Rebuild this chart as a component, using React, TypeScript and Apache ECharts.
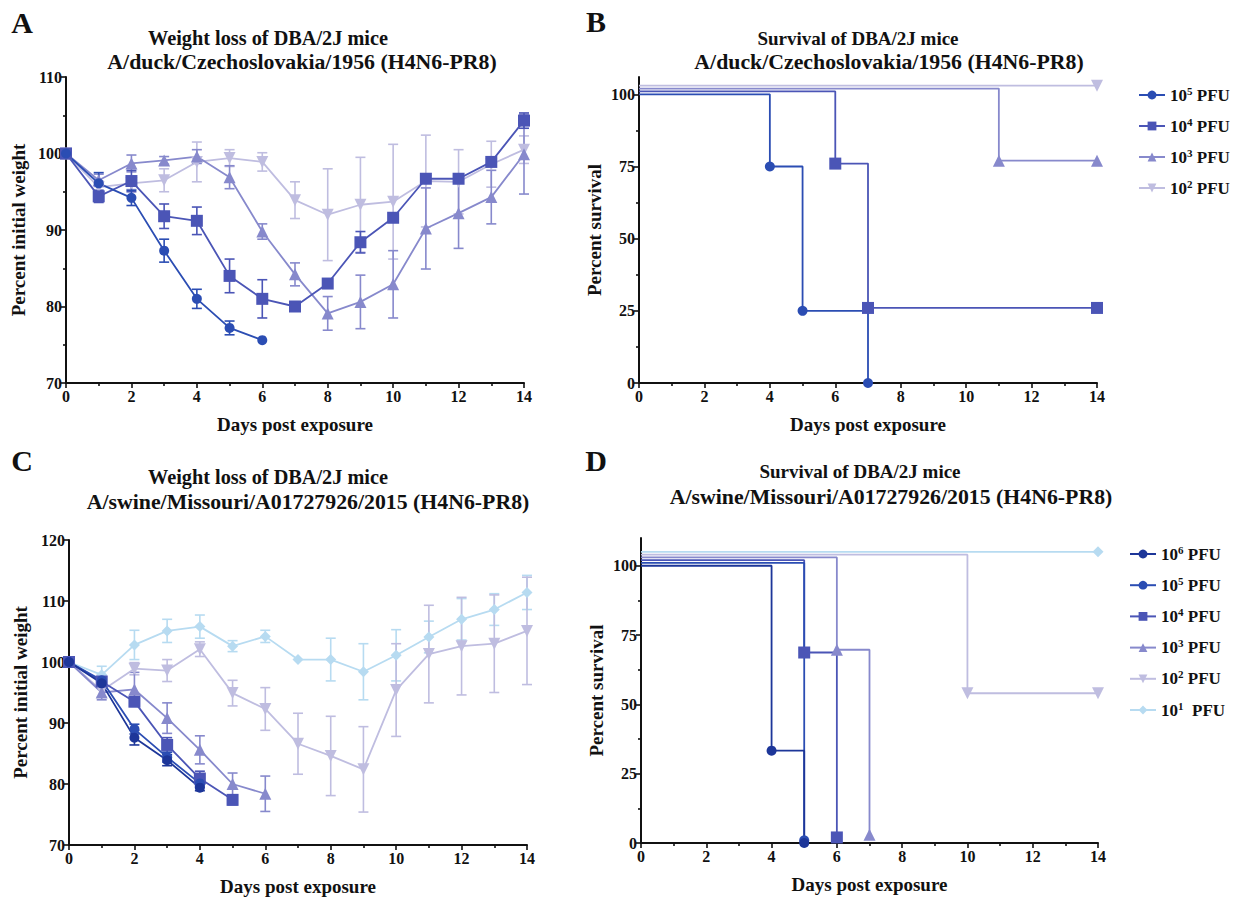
import React, { useEffect, useRef } from 'react';
import * as echarts from 'echarts';

const FONT = 'Liberation Serif, Times New Roman, serif';
const INK = '#111111';

// ---------- Data ----------
const days = [0, 1, 2, 3, 4, 5, 6, 7, 8, 9, 10, 11, 12, 13, 14];

// Panel A: weight, A/duck/Czechoslovakia/1956
const aMean5 = [100, 96.1, 94.2, 87.3, 81.0, 77.2, 75.6];
const aErr5 = [0, 1.4, 1.0, 1.5, 1.25, 0.9, 0];
const aMean4 = [100, 94.4, 96.4, 91.8, 91.2, 84.0, 81.0, 80.0, 83.0, 88.4, 91.6, 96.7, 96.7, 98.9, 104.3];
const aErr4 = [0, 0.8, 1.4, 1.6, 1.8, 2.2, 2.5, 0, 0, 1.4, 0, 0, 0, 0, 1.0];
const aMean3 = [100, 96.5, 98.7, 99.1, 99.6, 96.9, 89.8, 84.2, 79.1, 80.6, 82.9, 90.2, 92.2, 94.3, 99.9];
const aErr3 = [0, 0.8, 1.1, 0.5, 0.9, 1.5, 1.0, 1.5, 2.2, 3.5, 4.4, 5.3, 4.6, 3.5, 5.2];
const aMean2 = [100, 95.6, 96.1, 96.5, 98.9, 99.4, 98.9, 93.9, 92.0, 93.3, 93.7, 96.4, 96.3, 98.6, 100.5];
const aErr2 = [0, 0.8, 0.8, 1.5, 2.6, 1.1, 1.2, 2.4, 6.0, 6.2, 7.5, 6.0, 4.2, 3.0, 1.8];

// Panel C: weight, A/swine/Missouri/A01727926/2015
const cMean6 = [100, 96.5, 87.6, 83.9, 79.4];
const cErr6 = [0, 0.8, 1.2, 0.9, 0.5];
const cMean5 = [100, 97.0, 89.0, 84.4, 80.1];
const cErr5 = [0, 0.6, 0.8, 0.8, 0.6];
const cMean4 = [100, 96.8, 93.5, 86.4, 80.9, 77.4];
const cErr4 = [0, 0.8, 0.6, 1.2, 1.2, 0.8];
const cMean3 = [100, 95.0, 95.5, 90.8, 85.6, 80.0, 78.4];
const cErr3 = [0, 1.2, 2.8, 2.5, 2.3, 1.8, 2.9];
const cMean2 = [100, 95.3, 98.9, 98.6, 102.1, 94.9, 92.3, 86.6, 84.6, 82.4, 95.4, 101.3, 102.6, 103.0, 105.1];
const cErr2 = [0, 1.0, 1.0, 1.8, 1.2, 2.1, 3.5, 5.0, 6.5, 7.0, 7.6, 8.0, 8.0, 8.0, 8.8];
const cMean1 = [100, 97.9, 102.8, 105.1, 105.8, 102.6, 104.2, 100.4, 100.4, 98.4, 101.1, 104.1, 107.0, 108.6, 111.4];
const cErr1 = [0, 1.4, 2.4, 1.9, 1.9, 0.9, 1.0, 0, 3.5, 4.6, 4.2, 2.6, 3.4, 2.6, 2.8];

// Panel B: survival (offset curves as in the original figure)
const bDays5 = [0, 4, 5, 7];
const bSurv5 = [100, 75, 25, 0];
const bDays4 = [0, 6, 7, 14];
const bSurv4 = [101, 76, 26, 26];
const bDays3 = [0, 11, 14];
const bSurv3 = [102, 77, 77];
const bDays2 = [0, 14];
const bSurv2 = [103, 103];

// Panel D: survival
const dDays6 = [0, 4, 5];
const dSurv6 = [100, 33.3, 0];
const dDays5 = [0, 5];
const dSurv5 = [101, 1];
const dDays4 = [0, 5, 6];
const dSurv4 = [102, 68.7, 2];
const dDays3 = [0, 6, 7];
const dSurv3 = [103, 69.7, 3];
const dDays2 = [0, 10, 14];
const dSurv2 = [104, 54, 54];
const dDays1 = [0, 14];
const dSurv1 = [105, 105];

const survTicks = [0, 25, 50, 75, 100];
const survMinorTicks = [12.5, 37.5, 62.5, 87.5];

const legendLabels: Record<string, string> = {
  B5: '10{s|5} PFU',
  B4: '10{s|4} PFU',
  B3: '10{s|3} PFU',
  B2: '10{s|2} PFU',
  D6: '10{s|6} PFU',
  D5: '10{s|5} PFU',
  D4: '10{s|4} PFU',
  D3: '10{s|3} PFU',
  D2: '10{s|2} PFU',
  D1: '10{s|1}  PFU',
};

// ---------- Styles ----------
const C6 = '#1d3699';
const C5 = '#2b4db3';
const C4 = '#4b55b6';
const C3 = '#8789cc';
const C2 = '#bfbde0';
const C1 = '#b7dbf1';

const DOWN_TRI = 'path://M0,0 L10,0 L5,9 Z';

const sym = {
  circle: { symbol: 'circle', size: 10 },
  rect: { symbol: 'rect', size: 12 },
  tri: { symbol: 'triangle', size: 12 },
  down: { symbol: DOWN_TRI, size: 12 },
  diamond: { symbol: 'diamond', size: 11 },
};

function weightLine(name: string, means: number[], color: string, s: { symbol: string; size: number }, gi: number) {
  return {
    type: 'line',
    name,
    xAxisIndex: gi,
    yAxisIndex: gi,
    data: means.map((m, i) => [days[i], m]),
    symbol: s.symbol,
    symbolSize: s.size,
    lineStyle: { color, width: 1.8 },
    itemStyle: { color },
    z: 3,
  };
}

function errorBars(means: number[], errs: number[], color: string, gi: number) {
  const data: number[][] = [];
  means.forEach((m, i) => {
    if (errs[i] > 0) data.push([days[i], m - errs[i], m + errs[i]]);
  });
  return {
    type: 'custom',
    xAxisIndex: gi,
    yAxisIndex: gi,
    data,
    z: 2,
    encode: { x: 0, y: [1, 2] },
    renderItem: (params: any, api: any) => {
      const x = api.value(0);
      const lo = api.coord([x, api.value(1)]);
      const hi = api.coord([x, api.value(2)]);
      const w = 5;
      const st = { stroke: color, lineWidth: 1.6 };
      return {
        type: 'group',
        children: [
          { type: 'line', shape: { x1: lo[0], y1: lo[1], x2: hi[0], y2: hi[1] }, style: st },
          { type: 'line', shape: { x1: lo[0] - w, y1: lo[1], x2: lo[0] + w, y2: lo[1] }, style: st },
          { type: 'line', shape: { x1: hi[0] - w, y1: hi[1], x2: hi[0] + w, y2: hi[1] }, style: st },
        ],
      };
    },
  };
}

function survLine(name: string, xs: number[], ys: number[], color: string, s: { symbol: string; size: number }, gi: number, yi: number) {
  return {
    type: 'line',
    name,
    xAxisIndex: gi,
    yAxisIndex: yi,
    step: 'end',
    data: xs.map((x, i) => (i === 0 ? { value: [x, ys[i]], symbol: 'none' } : [x, ys[i]])),
    symbol: s.symbol,
    symbolSize: s.size,
    lineStyle: { color, width: 1.8 },
    itemStyle: { color },
    z: 3,
  };
}

const axisText = { fontFamily: FONT, fontWeight: 'bold', fontSize: 16, color: INK };
const nameText = { fontFamily: FONT, fontWeight: 'bold', fontSize: 19, color: INK };
const axLine = { show: true, onZero: false, lineStyle: { color: INK, width: 2 } };
const tickStyle = { color: INK, width: 1.6 };

function xAxis(gi: number) {
  return {
    type: 'value',
    gridIndex: gi,
    min: 0,
    max: 14,
    interval: 2,
    name: 'Days post exposure',
    nameLocation: 'middle',
    nameGap: 32,
    nameTextStyle: nameText,
    axisLine: axLine,
    axisTick: { show: true, length: 5, lineStyle: tickStyle },
    minorTick: { show: true, splitNumber: 2, length: 3, lineStyle: tickStyle },
    axisLabel: { ...axisText, margin: 5 },
    splitLine: { show: false },
    minorSplitLine: { show: false },
  };
}

function weightY(gi: number, min: number, max: number, minor: boolean, nameGap: number) {
  return {
    type: 'value',
    gridIndex: gi,
    min,
    max,
    interval: 10,
    name: 'Percent initial weight',
    nameLocation: 'middle',
    nameGap,
    nameTextStyle: nameText,
    axisLine: axLine,
    axisTick: { show: true, length: 5, lineStyle: tickStyle },
    minorTick: { show: minor, splitNumber: 2, length: 3, lineStyle: tickStyle },
    axisLabel: { ...axisText, margin: 4 },
    splitLine: { show: false },
    minorSplitLine: { show: false },
  };
}

function survY(gi: number, max: number, nameGap: number) {
  return {
    type: 'value',
    gridIndex: gi,
    min: 0,
    max,
    name: 'Percent survival',
    nameLocation: 'middle',
    nameGap,
    nameTextStyle: nameText,
    axisLine: axLine,
    axisTick: { show: true, length: 5, lineStyle: tickStyle, customValues: survTicks },
    axisLabel: { ...axisText, margin: 4, customValues: survTicks },
    splitLine: { show: false },
  };
}

function survMinorY(gi: number, max: number) {
  return {
    type: 'value',
    gridIndex: gi,
    min: 0,
    max,
    position: 'left',
    axisLine: { show: false },
    axisTick: { show: true, length: 3, lineStyle: tickStyle, customValues: survMinorTicks },
    axisLabel: { show: false, customValues: survMinorTicks },
    splitLine: { show: false },
  };
}

function legend(names: string[], left: number, top: number, gap: number) {
  return {
    data: names,
    orient: 'vertical',
    left,
    top,
    itemWidth: 26,
    itemHeight: 11,
    itemGap: gap,
    selectedMode: false,
    formatter: (n: string) => legendLabels[n],
    textStyle: {
      fontFamily: FONT,
      fontWeight: 'bold',
      fontSize: 17,
      color: INK,
      rich: {
        s: { fontFamily: FONT, fontWeight: 'bold', fontSize: 11, color: INK, padding: [0, 0, 9, 0] },
      },
    },
  };
}

function titleText(text: string, x: number, y: number, size = 19) {
  return {
    type: 'text',
    x,
    y,
    style: { text, fontFamily: FONT, fontWeight: 'bold', fontSize: size, fill: INK, textAlign: 'center', textVerticalAlign: 'middle' },
  };
}

export default function App() {
  const ref = useRef<HTMLDivElement>(null);
  useEffect(() => {
    if (!ref.current) return;
    const chart = echarts.init(ref.current, undefined, { renderer: 'svg' });
    const option: any = {
      animation: false,
      backgroundColor: '#ffffff',
      textStyle: { fontFamily: FONT },
      grid: [
        { left: 66, top: 77, width: 458, height: 306 },
        { left: 639, top: 77, width: 458, height: 306 },
        { left: 69, top: 540, width: 458, height: 305 },
        { left: 641, top: 538, width: 457, height: 305 },
      ],
      xAxis: [xAxis(0), xAxis(1), xAxis(2), xAxis(3)],
      yAxis: [
        weightY(0, 70, 110, true, 38),
        survY(1, 106, 35),
        weightY(2, 70, 120, false, 39),
        survY(3, 110, 35),
        survMinorY(1, 106),
        survMinorY(3, 110),
      ],
      legend: [
        legend(['B5', 'B4', 'B3', 'B2'], 1133, 80, 12.5),
        legend(['D6', 'D5', 'D4', 'D3', 'D2', 'D1'], 1124, 539, 12.7),
      ],
      graphic: [
        titleText('A', 22, 22, 30),
        titleText('B', 596, 21, 30),
        titleText('C', 22, 460, 30),
        titleText('D', 596, 460, 30),
        titleText('Weight loss of DBA/2J mice', 268, 38, 20.3),
        titleText('A/duck/Czechoslovakia/1956 (H4N6-PR8)', 302, 62, 21.8),
        titleText('Survival of DBA/2J mice', 858, 38, 19),
        titleText('A/duck/Czechoslovakia/1956 (H4N6-PR8)', 889, 62, 21.8),
        titleText('Weight loss of DBA/2J mice', 268, 477, 20.3),
        titleText('A/swine/Missouri/A01727926/2015 (H4N6-PR8)', 308, 502, 21.8),
        titleText('Survival of DBA/2J mice', 860, 471, 19),
        titleText('A/swine/Missouri/A01727926/2015 (H4N6-PR8)', 891, 497, 21.8),
      ],
      series: [
        // Panel A
        errorBars(aMean2, aErr2, C2, 0),
        errorBars(aMean3, aErr3, C3, 0),
        errorBars(aMean4, aErr4, C4, 0),
        errorBars(aMean5, aErr5, C5, 0),
        weightLine('A2', aMean2, C2, sym.down, 0),
        weightLine('A3', aMean3, C3, sym.tri, 0),
        weightLine('A4', aMean4, C4, sym.rect, 0),
        weightLine('A5', aMean5, C5, sym.circle, 0),
        // Panel B
        survLine('B2', bDays2, bSurv2, C2, sym.down, 1, 1),
        survLine('B3', bDays3, bSurv3, C3, sym.tri, 1, 1),
        survLine('B4', bDays4, bSurv4, C4, sym.rect, 1, 1),
        survLine('B5', bDays5, bSurv5, C5, sym.circle, 1, 1),
        // Panel C
        errorBars(cMean1, cErr1, C1, 2),
        errorBars(cMean2, cErr2, C2, 2),
        errorBars(cMean3, cErr3, C3, 2),
        errorBars(cMean4, cErr4, C4, 2),
        errorBars(cMean5, cErr5, C5, 2),
        errorBars(cMean6, cErr6, C6, 2),
        weightLine('C1', cMean1, C1, sym.diamond, 2),
        weightLine('C2', cMean2, C2, sym.down, 2),
        weightLine('C3', cMean3, C3, sym.tri, 2),
        weightLine('C4', cMean4, C4, sym.rect, 2),
        weightLine('C5', cMean5, C5, sym.circle, 2),
        weightLine('C6', cMean6, C6, sym.circle, 2),
        // Panel D
        survLine('D1', dDays1, dSurv1, C1, sym.diamond, 3, 3),
        survLine('D2', dDays2, dSurv2, C2, sym.down, 3, 3),
        survLine('D3', dDays3, dSurv3, C3, sym.tri, 3, 3),
        survLine('D4', dDays4, dSurv4, C4, sym.rect, 3, 3),
        survLine('D5', dDays5, dSurv5, C5, sym.circle, 3, 3),
        survLine('D6', dDays6, dSurv6, C6, sym.circle, 3, 3),
      ],
    };
    chart.setOption(option);
    return () => chart.dispose();
  }, []);
  return (
    <div
      ref={ref}
      style={{ position: 'absolute', left: 0, top: 0, width: 1236, height: 897, background: '#fff' }}
    />
  );
}
